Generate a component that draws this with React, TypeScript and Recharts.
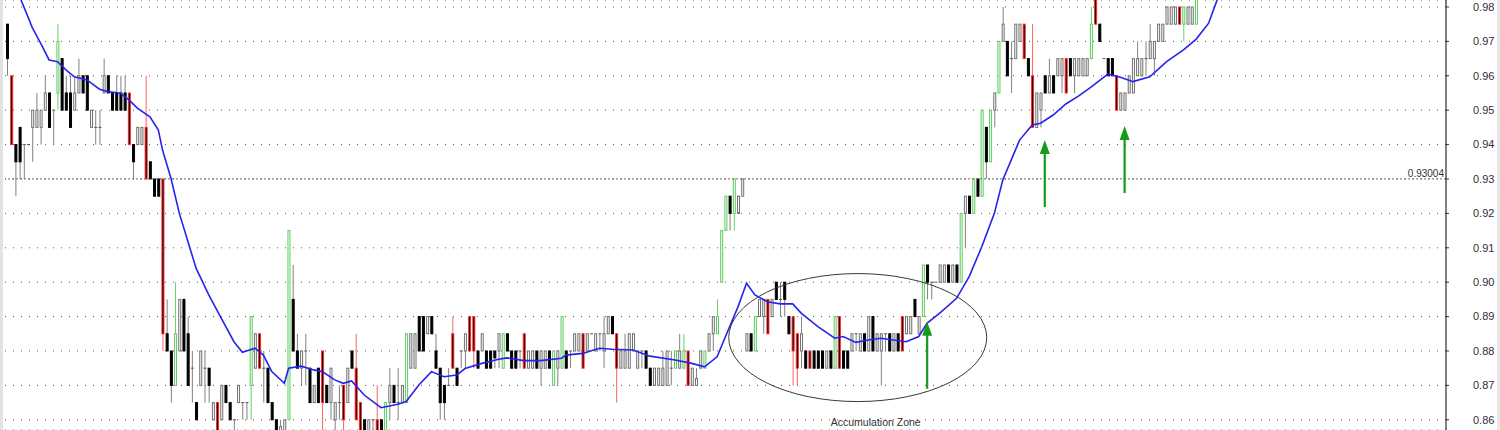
import React from 'react';
import { ComposedChart, Bar, Line, XAxis, YAxis, CartesianGrid, ReferenceLine, ReferenceDot } from 'recharts';

// Candles: [open, high, low, close, highlight] in thousandths; highlight 0 = plain, 1 = green, 2 = red
const candlesA: number[][] = [
  [975,975,960,965,0],[960,960,940,940,2],[940,940,925,935,0],[945,945,930,935,0],[940,940,930,940,0],
  [940,940,940,940,0],[945,950,935,950,0],[945,955,945,950,0],[945,950,940,950,0],[950,960,950,955,0],
  [955,955,945,945,0],[950,950,940,950,0],[955,975,950,970,1],[965,965,950,950,0],[955,960,950,950,0],
  [955,960,945,945,0],[950,960,950,955,0],[955,965,955,960,0],[960,960,955,955,0],[960,960,950,950,0],
  [945,950,945,950,0],[945,950,940,945,0],[945,950,940,945,0],[955,965,955,960,0],[960,960,955,955,0],
  [955,955,950,950,0],[955,960,950,950,0],[955,960,950,950,0],[955,960,950,950,0],[955,955,940,940,2],
  [940,940,930,935,0],[940,945,940,945,0],[940,945,940,945,0],[945,960,930,930,2],[935,935,930,930,0],
  [930,930,925,925,0],[930,930,925,925,0],[930,930,880,885,2],
];
const candlesB: number[][] = [
  [885,895,880,880,0],[880,880,865,870,0],[870,900,870,885,1],[880,895,880,895,0],[895,895,880,880,0],
  [885,890,870,870,0],[875,880,865,875,0],[865,865,860,860,0],[870,880,870,880,0],[875,880,865,875,0],
  [875,875,865,870,0],[860,865,860,865,0],[865,865,855,855,2],[860,870,860,870,0],[870,870,865,865,0],
  [865,865,860,860,0],[860,860,855,860,0],[865,870,865,870,0],[865,865,860,865,0],[865,865,860,865,0],
  [870,890,860,890,1],[875,885,875,885,0],[885,885,875,875,2],[875,880,865,875,0],[875,875,865,865,0],
  [865,865,860,860,0],[860,860,855,855,0],[855,860,855,858,0],[855,860,855,860,0],[860,915,860,915,1],
  [895,905,880,880,0],[880,885,875,875,0],[875,880,870,880,0],[880,885,870,880,0],[875,875,865,865,0],
  [865,870,865,870,0],[875,875,865,865,0],[880,880,855,865,2],
];
const candlesC: number[][] = [
  [870,870,865,865,0],[865,875,860,875,0],[860,865,855,865,0],[865,870,860,865,0],[870,870,855,860,2],
  [865,875,865,875,0],[880,880,875,875,0],[875,885,860,860,2],[865,865,855,855,2],[860,860,855,855,0],
  [855,860,855,860,0],[860,860,855,860,0],[860,870,855,855,2],[860,860,855,855,0],[855,865,855,865,1],
  [865,875,860,870,0],[870,870,865,865,0],[865,875,860,865,0],[865,870,865,870,0],[865,885,865,885,1],
  [875,885,875,885,0],[875,885,875,885,0],[890,890,880,880,0],[890,890,880,880,0],[885,890,885,890,0],
  [890,890,885,885,0],[880,885,875,875,0],[875,875,860,865,0],[870,870,860,865,0],[870,875,870,870,0],
  [885,890,875,875,2],[875,875,870,870,0],[880,880,875,880,0],[880,885,875,885,0],[890,890,880,880,2],
  [890,890,875,880,2],[880,880,875,875,0],[880,885,880,885,0],[880,880,875,875,0],[880,880,875,875,0],
  [880,880,875,878,0],[880,885,875,885,0],[875,885,875,885,1],[885,885,880,880,0],[880,880,875,875,0],
  [880,880,875,875,0],[880,880,875,880,0],[885,885,875,875,2],[875,880,875,880,0],[875,880,875,880,0],
  [880,880,875,875,0],[875,880,870,880,0],[875,880,875,880,0],[880,880,875,875,0],[870,880,870,880,1],
  [875,880,870,880,0],[875,890,875,890,1],[880,880,875,875,0],[880,880,875,880,0],[880,885,880,885,0],
  [880,885,880,885,0],[885,885,875,875,2],[880,885,880,885,0],[885,885,885,885,0],[880,885,880,885,0],
  [885,885,880,885,0],
];
const candlesD: number[][] = [
  [880,890,875,885,0],[885,890,885,890,0],[890,890,885,885,0],[885,885,865,875,2],[875,880,875,880,0],
  [875,885,875,880,0],[875,885,875,885,0],[880,885,880,885,0],[875,880,875,880,0],[880,880,875,880,0],
  [880,880,875,875,0],[875,875,870,870,0],[870,875,870,875,0],[870,875,870,875,0],[870,880,870,875,0],
  [870,880,870,880,0],[875,880,870,875,0],[875,880,875,880,1],[875,885,875,880,0],[875,885,875,880,1],
  [880,880,870,870,2],[870,875,870,875,0],[870,875,870,872,0],[875,880,875,880,0],[875,880,875,880,1],
  [880,885,880,885,0],[885,890,880,890,0],[885,895,885,890,1],[900,915,900,915,1],[915,925,915,925,1],
  [925,925,915,920,0],[920,930,915,930,1],[920,925,920,925,0],[925,930,925,930,0],[880,885,880,885,0],
  [885,885,880,880,0],[880,890,880,890,1],[890,895,890,895,0],[890,895,885,895,0],[895,895,885,885,2],
  [890,895,890,895,0],[900,900,895,895,0],[895,900,890,895,0],[900,900,890,895,0],[890,890,885,885,0],
  [890,890,870,880,2],[885,885,870,875,2],[880,890,875,885,0],[880,880,875,875,0],[880,880,875,875,2],
  [880,880,875,875,0],[880,880,875,875,0],[880,880,875,875,0],[875,880,875,880,0],[880,880,875,875,0],
  [875,890,875,890,1],[890,890,875,875,2],[880,880,875,875,0],[880,880,875,875,0],[880,885,880,885,0],
  [885,885,880,885,0],[880,885,880,885,0],[885,885,880,880,0],[880,890,880,890,0],[890,890,880,880,0],
  [880,885,880,885,0],[880,885,870,885,0],[885,885,880,885,0],[885,885,880,880,0],[880,885,880,885,0],
  [885,885,880,880,0],[890,890,880,880,2],[885,890,885,890,0],[885,890,885,890,0],[895,895,890,890,0],
  [885,890,885,890,0],[890,905,890,905,1],[905,905,895,900,0],[900,900,895,900,0],[900,900,900,900,0],
  [900,905,900,905,0],[900,905,900,905,0],[905,905,900,900,0],[900,905,900,905,0],[905,905,900,900,0],
];
const candlesE: number[][] = [
  [900,920,900,920,1],[920,925,910,925,0],[925,925,920,920,0],[920,930,920,930,1],[930,930,925,925,0],
  [925,950,925,950,1],[945,945,930,935,0],[935,950,935,950,1],[950,955,945,955,0],[955,970,955,970,1],
  [970,980,970,975,0],[970,970,960,960,0],[965,970,955,965,0],[965,975,965,975,0],[970,975,970,975,0],
  [975,975,965,965,2],[965,965,960,960,0],[960,975,945,945,2],[945,955,945,955,0],[950,955,945,955,0],
  [960,960,955,955,0],[955,965,955,960,0],[960,960,955,955,0],[960,965,960,965,0],[960,965,955,965,0],
  [965,965,955,955,2],[965,965,960,960,0],[960,965,955,965,0],[960,965,960,965,0],[960,965,960,965,0],
  [960,965,960,965,0],[965,980,965,975,1],[985,990,975,975,2],[975,975,970,970,0],[965,965,965,965,0],
  [965,965,960,960,0],[965,965,960,960,0],[960,960,950,950,2],[950,955,950,955,0],[950,955,950,955,0],
  [955,960,955,960,0],[955,965,955,965,0],[960,970,960,965,0],[960,965,960,965,0],[965,970,960,965,0],
  [965,975,965,970,0],[965,970,960,970,0],[970,975,970,975,0],[970,975,970,975,0],[975,980,975,980,0],
  [975,980,975,980,0],[975,980,975,980,0],[980,980,975,975,2],[975,980,970,980,1],[975,980,975,980,0],
  [975,980,975,980,0],[975,990,975,985,1],
];

// Blue moving average, read at candle positions
const maIndex = [2,6,8,10,12,14,16,19,22,24,27,29,31,34,36,37,39,41,45,48,51,54,56,59,61,63,66,67,70,73,75,78,80,82,85,89,93,95,98,101,104,107,109,113,117,119,123,127,132,133,137,141,144,149,153,159,163,166,169,171,174,176,178,181,184,187,189,193,197,199,202,205,208,211,214,217,219,222,226,229,232,235,237,240,241,244,246,249,252,255,258,262,265,268,272,276,280,283,286,288,289];
const maValue = [0.986,0.974,0.9694,0.9646,0.9641,0.9617,0.9597,0.9588,0.9561,0.9554,0.9549,0.953,0.9506,0.9481,0.9442,0.9384,0.9302,0.92,0.904,0.8963,0.8895,0.8827,0.8796,0.8808,0.8788,0.874,0.8706,0.875,0.8756,0.8745,0.874,0.8716,0.8706,0.8713,0.8672,0.8635,0.8645,0.8653,0.8701,0.874,0.8725,0.873,0.8749,0.8764,0.8776,0.878,0.8772,0.8772,0.8779,0.8788,0.8793,0.8808,0.8805,0.8803,0.8785,0.8774,0.8764,0.8754,0.8783,0.8842,0.8929,0.8997,0.8963,0.8943,0.8937,0.8937,0.891,0.8871,0.8837,0.8842,0.8825,0.8832,0.8837,0.8832,0.8827,0.8842,0.8881,0.891,0.8953,0.9016,0.9103,0.92,0.9297,0.9384,0.9413,0.9457,0.9462,0.9486,0.9518,0.9541,0.9567,0.9605,0.9596,0.9583,0.9597,0.9641,0.9675,0.9706,0.9753,0.982,0.985];

const priceTicks = [0.86,0.87,0.88,0.89,0.90,0.91,0.92,0.93,0.94,0.95,0.96,0.97,0.98];
const priceDomain = [0.85703, 0.98203];
const markerLevel = 0.93004;
const arrowIdx = [219, 247, 266];
const arrowTip = [0.8885, 0.9413, 0.9454];
const zoneIdx = [202];
const zonePrice = [0.8839];
const zoneLabel = ['Accumulation Zone'];
const SLOT_COUNT = 343;

const candles = [...candlesA, ...candlesB, ...candlesC, ...candlesD, ...candlesE];

const rows: any[] = Array.from({ length: SLOT_COUNT }, (_, i) => {
  const r: any = { i };
  const c = candles[i];
  if (c) {
    const [o, h, l, cl, t] = c;
    r.o = o / 1000; r.h = h / 1000; r.l = l / 1000; r.c = cl / 1000; r.t = t;
    r.range = [l / 1000, h === l ? h / 1000 + 0.0002 : h / 1000];
  }
  return r;
});
maIndex.forEach((ix, k) => { rows[ix].ma = maValue[k]; });

const FONT = '"Liberation Sans", Arial, sans-serif';

const Candle = (props: any) => {
  const { x, y, width, height, payload } = props;
  if (!payload || payload.o == null || !Number.isFinite(y)) return null;
  const { o, h, l, c, t } = payload;
  const top = Math.min(y, y + height);
  const bot = Math.max(y, y + height);
  const span = payload.range[1] - payload.range[0];
  const pix = (p: number) => top + ((payload.range[1] - p) / span) * (bot - top);
  const cx = x + width / 2;
  const yo = pix(o), yc = pix(c);
  const bTop = Math.min(yo, yc), bBot = Math.max(yo, yc);
  const bear = c < o;
  let wick = '#808080', stroke = '#000', fill = '#000';
  if (t === 1) { wick = '#66d466'; stroke = '#5ccc5c'; fill = '#ffffff'; }
  else if (t === 2) { wick = '#ff6060'; stroke = '#ff2a2a'; fill = '#000'; }
  else if (!bear) { stroke = '#707070'; fill = '#ffffff'; }
  const wTop = pix(h), wBot = pix(l);
  return (
    <g>
      <line x1={cx} x2={cx} y1={wTop} y2={wBot} stroke={wick} strokeWidth={1} />
      {bBot - bTop < 1 ? (
        <line x1={x} x2={x + width} y1={bTop} y2={bTop} stroke={t === 0 ? '#555' : stroke} strokeWidth={1} />
      ) : (
        <rect x={x + 0.5} y={bTop} width={width - 1} height={bBot - bTop} fill={fill} stroke={stroke} strokeWidth={1} />
      )}
    </g>
  );
};

const ArrowShape = (props: any) => {
  const { cx, cy } = props;
  const col = '#169a18';
  return (
    <g>
      <line x1={cx} x2={cx} y1={cy + 12} y2={cy + 67} stroke={col} strokeWidth={2.2} />
      <polygon points={`${cx},${cy} ${cx - 5},${cy + 14} ${cx + 5},${cy + 14}`} fill={col} />
    </g>
  );
};

const ZoneShape = (label: string) => (props: any) => {
  const { cx, cy } = props;
  return (
    <g>
      <ellipse cx={cx + 2} cy={cy} rx={129} ry={64} fill="none" stroke="#3a3a3a" strokeWidth={1} />
      <text x={cx + 20} y={cy + 88} textAnchor="middle" fontSize={10.5} fontFamily={FONT} fill="#333">{label}</text>
    </g>
  );
};

export default function App() {
  return (
    <div style={{ position: 'absolute', left: 0, top: 0, width: 1500, height: 430, background: '#fff', overflow: 'hidden' }}>
      <div style={{ position: 'absolute', left: 0, top: 0, width: 3, height: 430, background: '#e2e2e2' }} />
      <div style={{ position: 'absolute', left: 1497, top: 0, width: 3, height: 430, background: '#e6e6e6' }} />
      <ComposedChart width={1500} height={430} data={rows} margin={{ top: 0, right: 0, bottom: 0, left: 5 }}>
        <CartesianGrid vertical={false} stroke="#555" strokeDasharray="1 7" />
        <XAxis dataKey="i" type="category" hide />
        <YAxis
          orientation="right"
          type="number"
          domain={priceDomain}
          allowDataOverflow
          ticks={priceTicks}
          interval={0}
          width={54}
          tickFormatter={(v: number) => v.toFixed(2)}
          axisLine={{ stroke: '#000' }}
          tickLine={{ stroke: '#333' }}
          tickSize={3}
          tickMargin={24}
          tick={{ fill: '#2e2e3e', fontSize: 11, fontFamily: FONT }}
        />
        <ReferenceLine
          y={markerLevel}
          stroke="#6a6a6a"
          strokeDasharray="2 2"
          label={{ value: markerLevel.toFixed(5), position: 'insideBottomRight', offset: 2, fontSize: 10, fontFamily: FONT, fill: '#333' }}
        />
        <Bar dataKey="range" barSize={3} shape={Candle} isAnimationActive={false} />
        <Line dataKey="ma" type="linear" stroke="#2424ee" strokeWidth={1.6} dot={false} connectNulls isAnimationActive={false} />
        {zoneIdx.map((ix, k) => (
          <ReferenceDot key={'z' + k} x={ix} y={zonePrice[k]} r={1} shape={ZoneShape(zoneLabel[k])} />
        ))}
        {arrowIdx.map((ix, k) => (
          <ReferenceDot key={'a' + k} x={ix} y={arrowTip[k]} r={1} shape={ArrowShape} />
        ))}
      </ComposedChart>
    </div>
  );
}
